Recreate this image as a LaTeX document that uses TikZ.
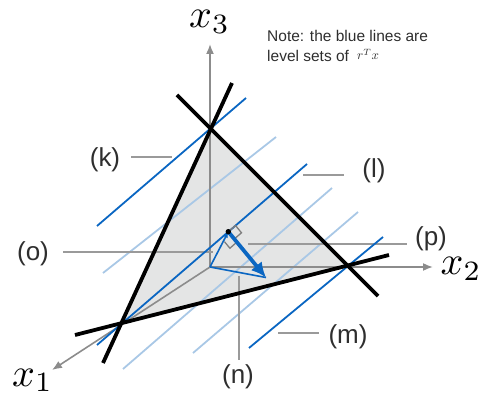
\documentclass[tikz,border=0pt]{standalone}
\usepackage{fontspec}
\newfontfamily\lblfont{Liberation Sans}
\usetikzlibrary{arrows.meta,calc}
\definecolor{axisgray}{HTML}{8C8C8C}
\definecolor{linegray}{HTML}{9A9A9A}
\definecolor{trifill}{HTML}{E4E5E5}
\definecolor{darkblue}{HTML}{0A66C2}
\definecolor{lightblue}{HTML}{A9C8E6}
\definecolor{txt}{HTML}{2E2E2E}
\begin{document}
\begin{tikzpicture}[x=1pt,y=-1pt,
  axis/.style={draw=axisgray,line width=1.6pt,-{Latex[length=10pt,width=8pt]}},
  lblline/.style={draw=linegray,line width=1.2pt},
  blackline/.style={draw=black,line width=3.8pt},
  levelline/.style={draw=darkblue,line width=1.8pt},
  faintline/.style={draw=lightblue,line width=1.8pt},
  thinblue/.style={draw=darkblue,line width=1.6pt},
  lbl/.style={font=\lblfont\fontsize{26}{31}\selectfont,text=txt,inner sep=0pt,anchor=center},
  note/.style={font=\lblfont\fontsize{15.5}{18}\selectfont,text=txt,inner sep=0pt,anchor=base west},
  axlbl/.style={inner sep=0pt,anchor=base west}]
\useasboundingbox (0,0) rectangle (488,393);
% key points
\coordinate (O) at (210,267);
\coordinate (X3) at (210,44);
\coordinate (X2) at (433,267);
\coordinate (X1) at (52,370);
\coordinate (A) at (210,128);
\coordinate (B) at (347,265);
\coordinate (C) at (122,323);
\coordinate (D) at (228.3,231.7);
\coordinate (E) at (266,277.5);
% shaded triangle
\fill[fill=trifill] (A) -- (B) -- (C) -- cycle;
% faint level sets
\coordinate (f1a) at (103,273); \coordinate (f1b) at (276,137);
\coordinate (f2a) at (123,369); \coordinate (f2b) at (332,188);
\coordinate (f3a) at (193,353); \coordinate (f3b) at (358,212);
\draw[faintline] (f1a) -- (f1b);
\draw[faintline] (f2a) -- (f2b);
\draw[faintline] (f3a) -- (f3b);
% axes
\draw[axis] (O) -- (X3);
\draw[axis] (O) -- (X2);
\draw[axis] (O) -- (X1);
% label leader lines
\coordinate (k1) at (131,157); \coordinate (k2) at (172,157);
\coordinate (l1) at (303,175); \coordinate (l2) at (344,175);
\coordinate (p1) at (248,244); \coordinate (p2) at (407,244);
\coordinate (o1) at (63,252);  \coordinate (o2) at (213,252);
\coordinate (m1) at (278,333); \coordinate (m2) at (319,333);
\coordinate (n1) at (239,276); \coordinate (n2) at (239,360);
\draw[lblline] (k1) -- (k2);
\draw[lblline] (l1) -- (l2);
\draw[lblline] (p1) -- (p2);
\draw[lblline] (o1) -- (o2);
\draw[lblline] (m1) -- (m2);
\draw[lblline] (n1) -- (n2);
% dark level sets
\coordinate (ka) at (97,226);  \coordinate (kb) at (246,98);
\coordinate (ca) at (97,345);  \coordinate (cb) at (307,164);
\coordinate (ma) at (249,348); \coordinate (mb) at (383,237);
\draw[levelline] (ka) -- (kb);
\draw[levelline] (ca) -- (cb);
\draw[levelline] (ma) -- (mb);
% constraint lines
\coordinate (ac1) at (232,83);  \coordinate (ac2) at (103,363);
\coordinate (ab1) at (177,95);  \coordinate (ab2) at (378,296);
\coordinate (cb1) at (75,335);  \coordinate (cb2) at (389,255);
\draw[blackline] (ac1) -- (ac2);
\draw[blackline] (ab1) -- (ab2);
\draw[blackline] (cb1) -- (cb2);
% right angle marks
\draw[draw=axisgray!90!black,line width=1.3pt] (D) -- (235.5,225.5) -- (241.5,232.8) -- (234.3,239.0);
\draw[draw=axisgray!90!black,line width=1.3pt] (224.4,241.6) -- (229.9,248.2) -- (236.9,242.1);
% vectors
\draw[thinblue,-{Latex[length=6pt,width=5pt]}] (O) -- (D);
\draw[thinblue] (O) -- (E);
\draw[draw=darkblue,line width=3.8pt,-{Latex[length=15pt,width=14pt]}] (D) -- (E);
\fill[black] (D) circle (2.7pt);
% labels
\node[lbl] (k) at (105,160) {(k)};
\node[lbl] (l) at (374,171) {(l)};
\node[lbl] (p) at (431,239) {(p)};
\node[lbl] (o) at (33,254) {(o)};
\node[lbl] (m) at (348,337) {(m)};
\node[lbl] (n) at (238,377) {(n)};
\node[axlbl] (x3l) at (189,28) {\scalebox{4}{$x_3$}};
\node[axlbl] (x2l) at (440.5,275) {\scalebox{4}{$x_2$}};
\node[axlbl] (x1l) at (12,386) {\scalebox{4}{$x_1$}};
\node[note] (note1) at (267,41.7) {Note: the blue lines are};
\node[note] (note2) at (267,61.5) {level sets of};
\node[axlbl,text=txt] (rtx) at (357,60) {\scalebox{1.3}{$r^Tx$}};
\end{tikzpicture}
\end{document}
